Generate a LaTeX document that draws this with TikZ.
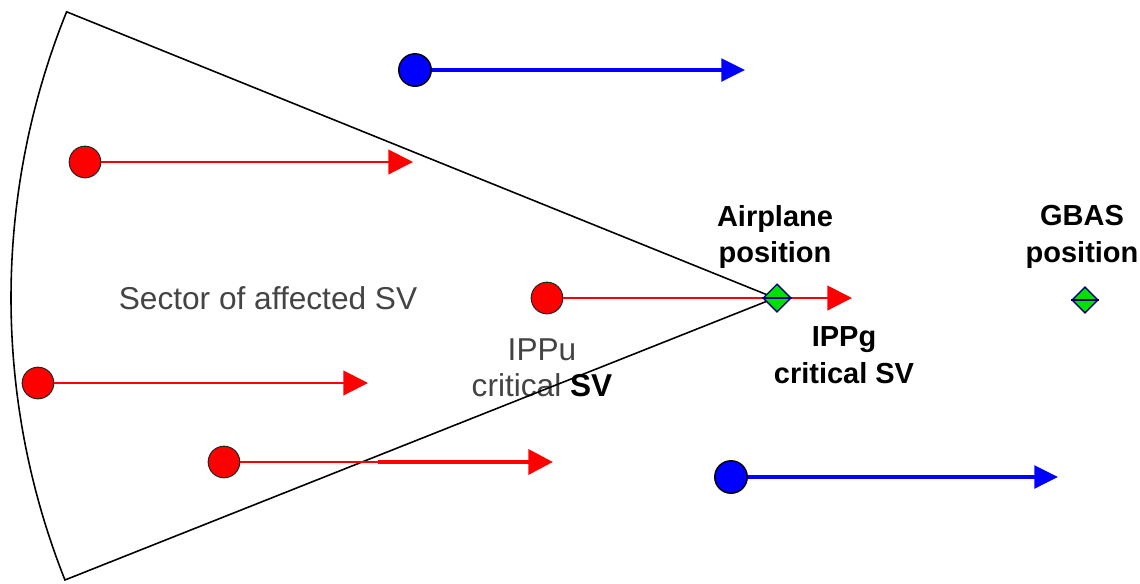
\documentclass[tikz,border=0pt]{standalone}
\usepackage{fontspec}
\setmainfont{Liberation Sans}
\usetikzlibrary{arrows.meta,shapes.geometric}
\definecolor{svred}{RGB}{255,0,0}
\definecolor{svblue}{RGB}{0,0,255}
\definecolor{posgreen}{RGB}{0,225,0}
\definecolor{posnavy}{RGB}{0,0,128}
\definecolor{txtgray}{RGB}{68,68,68}
\begin{document}
\begin{tikzpicture}[x=0.02cm,y=-0.02cm,
  redsv/.style={circle,draw=black!85,fill=svred,minimum size=18pt,inner sep=0pt,line width=0.6pt},
  bluesv/.style={circle,draw=black,fill=svblue,minimum size=18.5pt,inner sep=0pt,line width=0.8pt},
  redarrow/.style={draw=svred,line width=1.2pt,-{Triangle[length=14pt,width=14pt]}},
  bluearrow/.style={draw=svblue,line width=1.8pt,-{Triangle[length=13.5pt,width=13pt]}},
  posmark/.style={diamond,draw=posnavy,fill=posgreen,line width=0.8pt,minimum width=16pt,minimum height=16pt,inner sep=0pt},
  graylabel/.style={text=txtgray,align=center,inner sep=0pt,font=\fontsize{18}{20.5}\selectfont},
  boldlabel/.style={text=black,align=center,inner sep=0pt,font=\fontsize{16.5}{21}\selectfont\bfseries},
  sectorline/.style={draw=black,line width=0.9pt}]
\useasboundingbox (0,0) rectangle (1140,583);

% labels
\node[graylabel] (sectxt) at (268,298) {Sector of affected SV};
\node[graylabel] (ippu) at (542,368) {IPPu\\critical {\color{black}\bfseries SV}};
\node[boldlabel] (airtxt) at (775,237) {Airplane\\position};
\node[boldlabel] (gbastxt) at (1082,237) {GBAS\\position};
\node[boldlabel] (ippg) at (844,355) {IPPg\\critical SV};

% sector
\coordinate (apex) at (775,298);
\coordinate (topc) at (66.6,11.8);
\path[sectorline] (apex) -- (topc) arc[start angle=202, end angle=158.34, radius=764] -- cycle;

% red satellites
\node[redsv] (r1) at (85,162) {};
\coordinate (r1e) at (413,162);
\draw[redarrow] (r1) -- (r1e);

\node[redsv] (r2) at (547,298) {};
\coordinate (r2e) at (852,298);
\draw[redarrow] (r2) -- (r2e);

\node[redsv] (r3) at (38,383) {};
\coordinate (r3e) at (368,383);
\draw[redarrow] (r3) -- (r3e);

\node[redsv] (r4) at (224,462) {};
\coordinate (r4m) at (378,462);
\coordinate (r4e) at (553,462);
\draw[draw=svred,line width=1.2pt] (r4) -- (r4m);
\draw[redarrow,line width=2.6pt] (r4m) -- (r4e);

% blue satellites
\node[bluesv] (b1) at (415,70) {};
\coordinate (b1e) at (745,70);
\draw[bluearrow] (b1) -- (b1e);

\node[bluesv] (b2) at (731,477) {};
\coordinate (b2e) at (1058,477);
\draw[bluearrow] (b2) -- (b2e);

% positions
\node[posmark] (air) at (777,298) {};
\draw[posnavy,line width=0.8pt] (air.west) -- (air.east);
\node[posmark,minimum width=15pt,minimum height=15pt] (gbas) at (1085,300) {};
\draw[posnavy!70!black,line width=0.8pt] (gbas.west) -- (gbas.east);
\end{tikzpicture}
\end{document}
